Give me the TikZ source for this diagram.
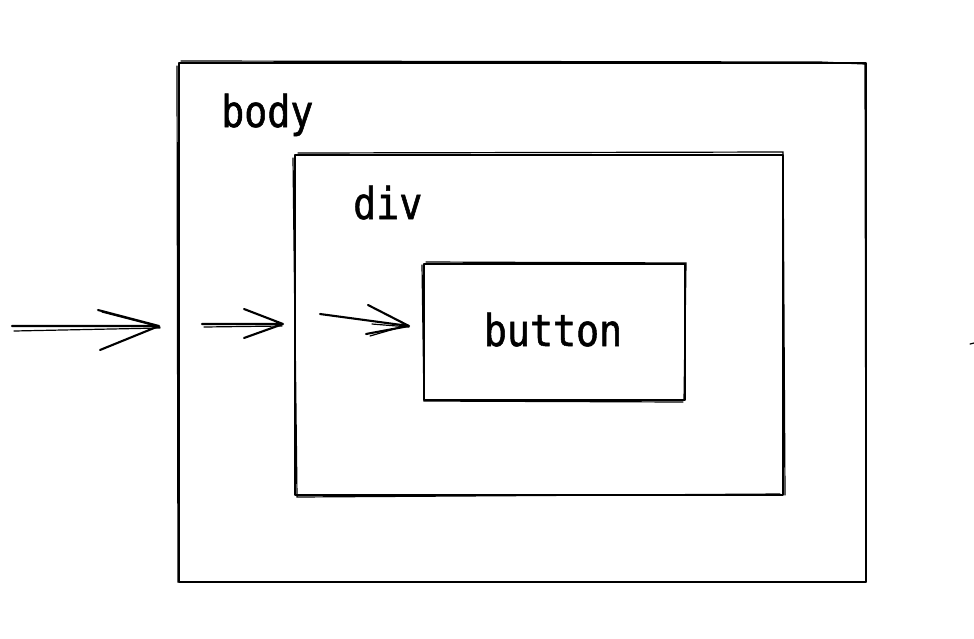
\documentclass[tikz,border=0pt]{standalone}
\usepackage{fontspec}
\newfontfamily\mono[FakeStretch=0.87,FakeBold=1.2]{DejaVu Sans Mono}
\begin{document}
\begin{tikzpicture}[x=1pt,y=-1pt,
  sk/.style={line width=2.1pt,line cap=round,line join=round,black},
  sk2/.style={line width=1.2pt,line cap=round,black},
  lbl/.style={font=\mono\fontsize{44}{50}\selectfont,inner sep=0pt}]
\useasboundingbox (0,0) rectangle (974,638);
% boxes
\node[sk,draw,minimum width=687pt,minimum height=519pt,inner sep=0pt] (body) at (522.5,322.5) {};
\draw[sk2] (181,61) -- (820,62) -- (865,64) -- (866,580) (177,66) -- (178,582) -- (866,582);
\node[sk,draw,minimum width=488pt,minimum height=340pt,inner sep=0pt] (div) at (539,325) {};
\draw[sk2] (298,153) -- (783,152) -- (785,495) (293,158) -- (297,497) -- (780,494);
\node[sk,draw,minimum width=261pt,minimum height=136pt,inner sep=0pt] (btn) at (554.5,332) {};
\draw[sk2] (426,262) -- (686,263) -- (684,400) (422,265) -- (424,401) -- (683,402);
% labels
\node[lbl,anchor=base west] (lbody) at (221,127) {body};
\node[lbl,anchor=base west] (ldiv) at (353,219) {div};
\node[lbl,anchor=base] (lbtn) at (553,346) {button};
% arrow 1
\coordinate (a1s) at (12,326);
\coordinate (a1t) at (159,326);
\coordinate (a1u) at (98,310);
\coordinate (a1d) at (100,350);
\draw[sk] (a1s) -- (a1t) (a1u) -- (a1t) (a1d) -- (a1t);
\draw[sk2] (14,331) -- (160,328) (102,312) -- (160,327);
% arrow 2
\coordinate (a2s) at (202,324);
\coordinate (a2t) at (283,324);
\coordinate (a2u) at (244,309);
\coordinate (a2d) at (244,338);
\draw[sk] (a2s) -- (a2t) (a2u) -- (a2t) (a2d) -- (a2t);
\draw[sk2] (204,327) -- (282,326);
% arrow 3
\coordinate (a3s) at (320,314);
\coordinate (a3t) at (409,326);
\coordinate (a3u) at (368,305);
\coordinate (a3d) at (366,334);
\draw[sk] (a3s) -- (a3t) (a3u) -- (a3t) (a3d) -- (a3t);
\draw[sk2] (372,324) -- (409,327) (370,336) -- (408,325);
% cut-off fragment at right edge
\coordinate (fr1) at (970,344);
\coordinate (fr2) at (974,343);
\draw[sk2] (fr1) -- (fr2);
\end{tikzpicture}
\end{document}
